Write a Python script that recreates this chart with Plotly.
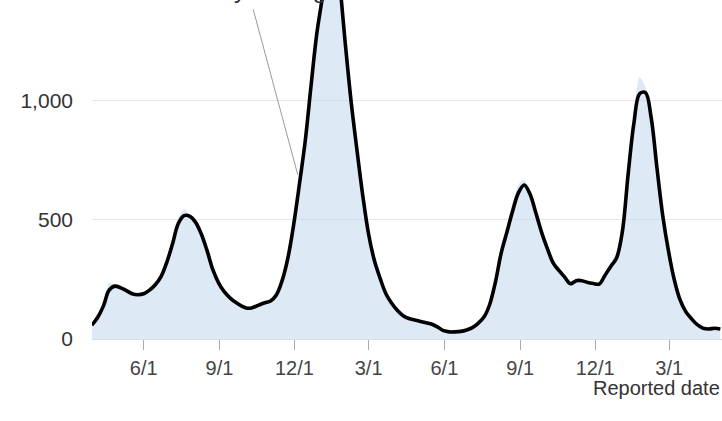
import pandas as pd
import plotly.graph_objects as go

# Weekly dates (Mondays) from 2020-03-30 to 2022-04-25
dates = pd.date_range("2020-03-30", periods=110, freq="7D")

# 7-day average of reported cases
avg_7day = [
    58, 90, 138, 205, 222, 215, 203, 190, 186, 190,
    205, 228, 262, 322, 400, 485, 518, 515, 490, 440,
    370, 290, 235, 198, 172, 153, 138, 129, 133, 143,
    152, 160, 185, 245, 340, 480, 650, 830, 1060, 1280,
    1440, 1640, 1690, 1490, 1230, 990, 790, 600, 440, 330,
    255, 190, 150, 120, 98, 86, 80, 74, 68, 62,
    50, 35, 30, 30, 32, 38, 48, 66, 92, 145,
    240, 362, 450, 540, 615, 647, 608, 530, 448, 380,
    320, 288, 260, 232, 245, 245, 237, 233, 231, 268,
    305, 340, 450, 690, 905, 1030, 1035, 930, 720, 520,
    370, 250, 165, 115, 85, 60, 45, 42, 45, 42,
]

# Reported cases (light area)
reported = [
    62, 100, 150, 235, 228, 214, 200, 188, 188, 194,
    210, 235, 272, 340, 425, 510, 545, 525, 492, 435,
    362, 284, 232, 196, 170, 152, 138, 130, 136, 148,
    156, 168, 200, 275, 380, 520, 690, 860, 1080, 1300,
    1460, 1660, 1700, 1480, 1210, 975, 780, 590, 432, 325,
    250, 188, 148, 118, 97, 86, 80, 74, 68, 60,
    48, 34, 30, 31, 34, 40, 52, 72, 100, 165,
    270, 395, 480, 575, 650, 670, 600, 520, 440, 375,
    318, 286, 262, 238, 255, 248, 238, 234, 236, 280,
    322, 365, 500, 740, 960, 1100, 1060, 920, 700, 505,
    360, 245, 160, 112, 82, 58, 44, 42, 46, 42,
]

tick_dates = ["2020-06-01", "2020-09-01", "2020-12-01", "2021-03-01",
              "2021-06-01", "2021-09-01", "2021-12-01", "2022-03-01"]
tick_labels = ["6/1", "9/1", "12/1", "3/1", "6/1", "9/1", "12/1", "3/1"]

y_ticks = [0, 500, 1000]

fig = go.Figure()
fig.add_trace(go.Scatter(
    x=dates, y=reported, mode="lines",
    line=dict(width=0, shape="spline", smoothing=0.6),
    fill="tozeroy", fillcolor="rgba(187,211,235,0.5)",
    hoverinfo="skip", showlegend=False,
))
fig.add_trace(go.Scatter(
    x=dates, y=avg_7day, mode="lines",
    line=dict(width=3.6, color="black", shape="spline", smoothing=1.0),
    showlegend=False,
))

fig.update_layout(
    width=722, height=421,
    margin=dict(l=92, r=0, t=0, b=82, autoexpand=False),
    paper_bgcolor="white", plot_bgcolor="white",
    font=dict(family="Liberation Sans, Arial, sans-serif", color="#333"),
)
fig.update_xaxes(
    range=["2020-03-30 05:00", "2022-05-04"],
    tickvals=tick_dates, ticktext=tick_labels,
    ticks="outside", ticklen=10, tickwidth=1, tickcolor="#aaaaaa",
    tickfont=dict(size=20, color="#444"),
    ticklabelstandoff=1,
    showgrid=False, zeroline=False, showline=False,
)
fig.update_yaxes(
    range=[0, 1424],
    tickvals=y_ticks, tickformat=",",
    tickfont=dict(size=21, color="#333"),
    ticks="", ticklabelstandoff=18,
    showgrid=True, gridcolor="#e6e6e6", gridwidth=1,
    zeroline=True, zerolinecolor="#d3dce8", zerolinewidth=1,
    showline=False,
)

# Label for the 7-day average line (partially above the visible window)
fig.add_annotation(
    xref="paper", yref="paper", x=0.27, y=1.031,
    text="7-day average", showarrow=False,
    font=dict(size=24, color="#333"), xanchor="center", yanchor="middle",
)
fig.add_annotation(
    x=pd.Timestamp("2020-12-05"), y=690, text="",
    showarrow=True, arrowhead=0, arrowwidth=1, arrowcolor="#999999",
    ax=-45, ay=-167,
)
fig.add_annotation(
    xref="paper", yref="paper", x=1.0, y=-0.145,
    text="Reported date", showarrow=False,
    font=dict(size=20, color="#333"), xanchor="right", yanchor="middle",
)

fig.write_html(
    "out.html",
    config={"displayModeBar": False},
    post_script="document.body.style.margin='0';document.body.style.overflow='hidden';",
)
